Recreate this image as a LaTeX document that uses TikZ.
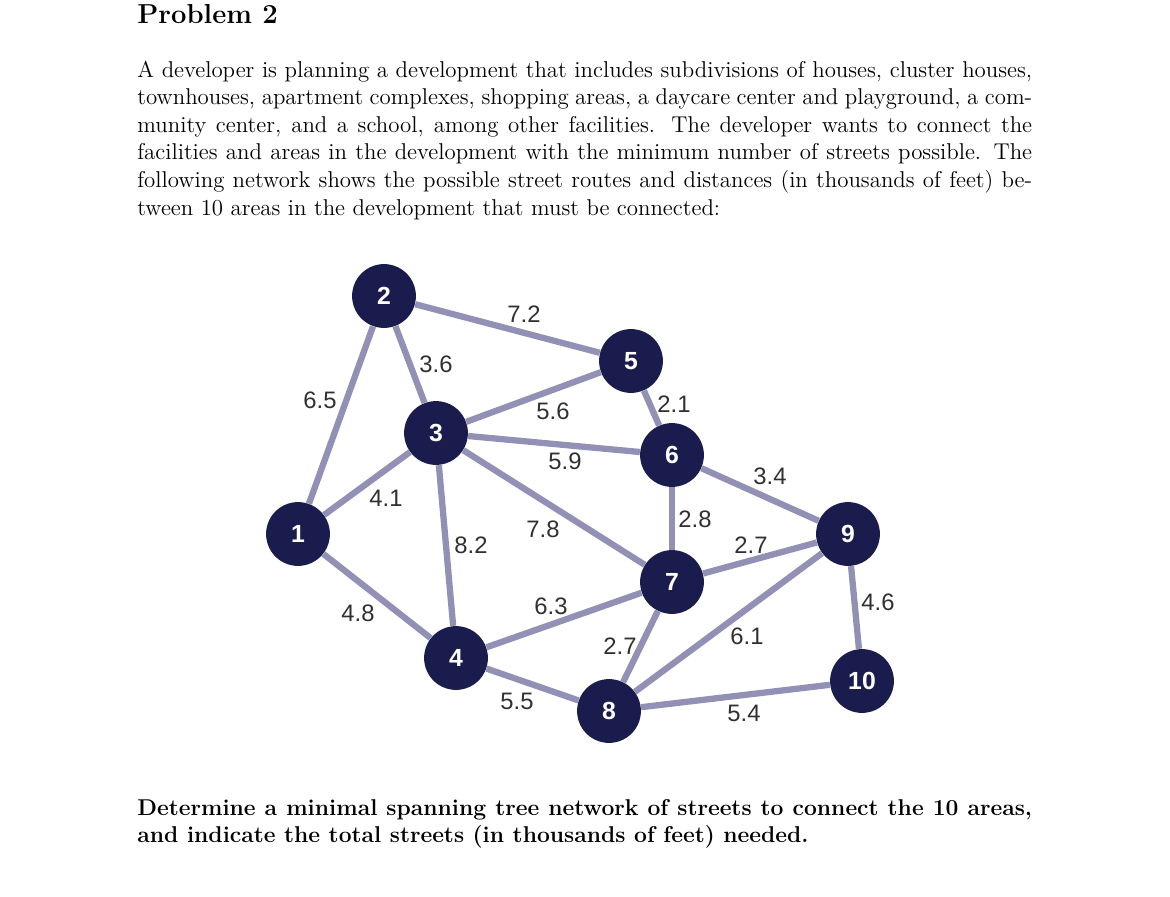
\documentclass[tikz,border=0pt]{standalone}
\usepackage{fontspec}
\newfontfamily\graphfont{Liberation Sans}
\definecolor{cnavy}{HTML}{1A1C4D}
\definecolor{cstreet}{HTML}{9291B5}
\definecolor{clabel}{HTML}{303030}
\tikzset{
  every picture/.style={x=0.525pt, y=-0.525pt},
  area/.style={circle, fill=cnavy, text=white, minimum size=33.5pt, inner sep=0pt, font=\graphfont\bfseries\fontsize{13}{15}\selectfont},
  street/.style={draw=cstreet, line width=3.3pt},
  weight/.style={text=clabel, inner sep=0pt, font=\graphfont\fontsize{12.5}{15}\selectfont},
  para/.style={anchor=base west, inner sep=0pt, text width=469.75pt, align=justify, font=\fontsize{12}{14.5}\selectfont},
}
\begin{document}
\begin{tikzpicture}
  \useasboundingbox (0,0) rectangle (1170,897);
  % problem text
  \node[anchor=base west, inner sep=0pt, font=\fontsize{14.4}{18}\selectfont\bfseries] (title) at (137,23) {Problem 2};
  \node[para] (intro) at (137,77) {A developer is planning a development that includes subdivisions of houses, cluster houses, townhouses, apartment complexes, shopping areas, a daycare center and playground, a community center, and a school, among other facilities. The developer wants to connect the facilities and areas in the development with the minimum number of streets possible. The following network shows the possible street routes and distances (in thousands of feet) between 10 areas in the development that must be connected:};
  \node[para, font=\fontsize{12}{14.5}\selectfont\bfseries] (task) at (137,815) {Determine a minimal spanning tree network of streets to connect the 10 areas, and indicate the total streets (in thousands of feet) needed.};
  % areas
  \node[area] (n1) at (298,534) {1}; \node[area] (n2) at (384,296) {2};
  \node[area] (n3) at (436,433) {3}; \node[area] (n4) at (456,658) {4};
  \node[area] (n5) at (631,361) {5}; \node[area] (n6) at (672,455) {6};
  \node[area] (n7) at (672,582) {7}; \node[area] (n8) at (609,711) {8};
  \node[area] (n9) at (848,534) {9}; \node[area] (n10) at (862,681) {10};
  % streets
  \draw[street] (n1) -- (n2); \draw[street] (n1) -- (n3); \draw[street] (n1) -- (n4);
  \draw[street] (n2) -- (n3); \draw[street] (n2) -- (n5);
  \draw[street] (n3) -- (n5); \draw[street] (n3) -- (n6); \draw[street] (n3) -- (n7); \draw[street] (n3) -- (n4);
  \draw[street] (n5) -- (n6); \draw[street] (n6) -- (n7); \draw[street] (n6) -- (n9);
  \draw[street] (n7) -- (n9); \draw[street] (n4) -- (n7); \draw[street] (n4) -- (n8); \draw[street] (n7) -- (n8);
  \draw[street] (n8) -- (n9); \draw[street] (n8) -- (n10); \draw[street] (n9) -- (n10);
  % distances
  \node[weight] (w12) at (320,400) {6.5}; \node[weight] (w25) at (524,314) {7.2};
  \node[weight] (w23) at (436,364) {3.6}; \node[weight] (w35) at (553,411) {5.6};
  \node[weight] (w56) at (674,404) {2.1}; \node[weight] (w36) at (565,461) {5.9};
  \node[weight] (w69) at (770,476) {3.4}; \node[weight] (w13) at (386,498) {4.1};
  \node[weight] (w37) at (543,529) {7.8}; \node[weight] (w34) at (471,545) {8.2};
  \node[weight] (w67) at (695,519) {2.8}; \node[weight] (w79) at (751,545) {2.7};
  \node[weight] (w14) at (358,613) {4.8}; \node[weight] (w47) at (551,606) {6.3};
  \node[weight] (w910) at (878,602) {4.6}; \node[weight] (w89) at (747,636) {6.1};
  \node[weight] (w78) at (620,646) {2.7}; \node[weight] (w48) at (517,701) {5.5};
  \node[weight] (w810) at (744,713) {5.4};
\end{tikzpicture}
\end{document}
